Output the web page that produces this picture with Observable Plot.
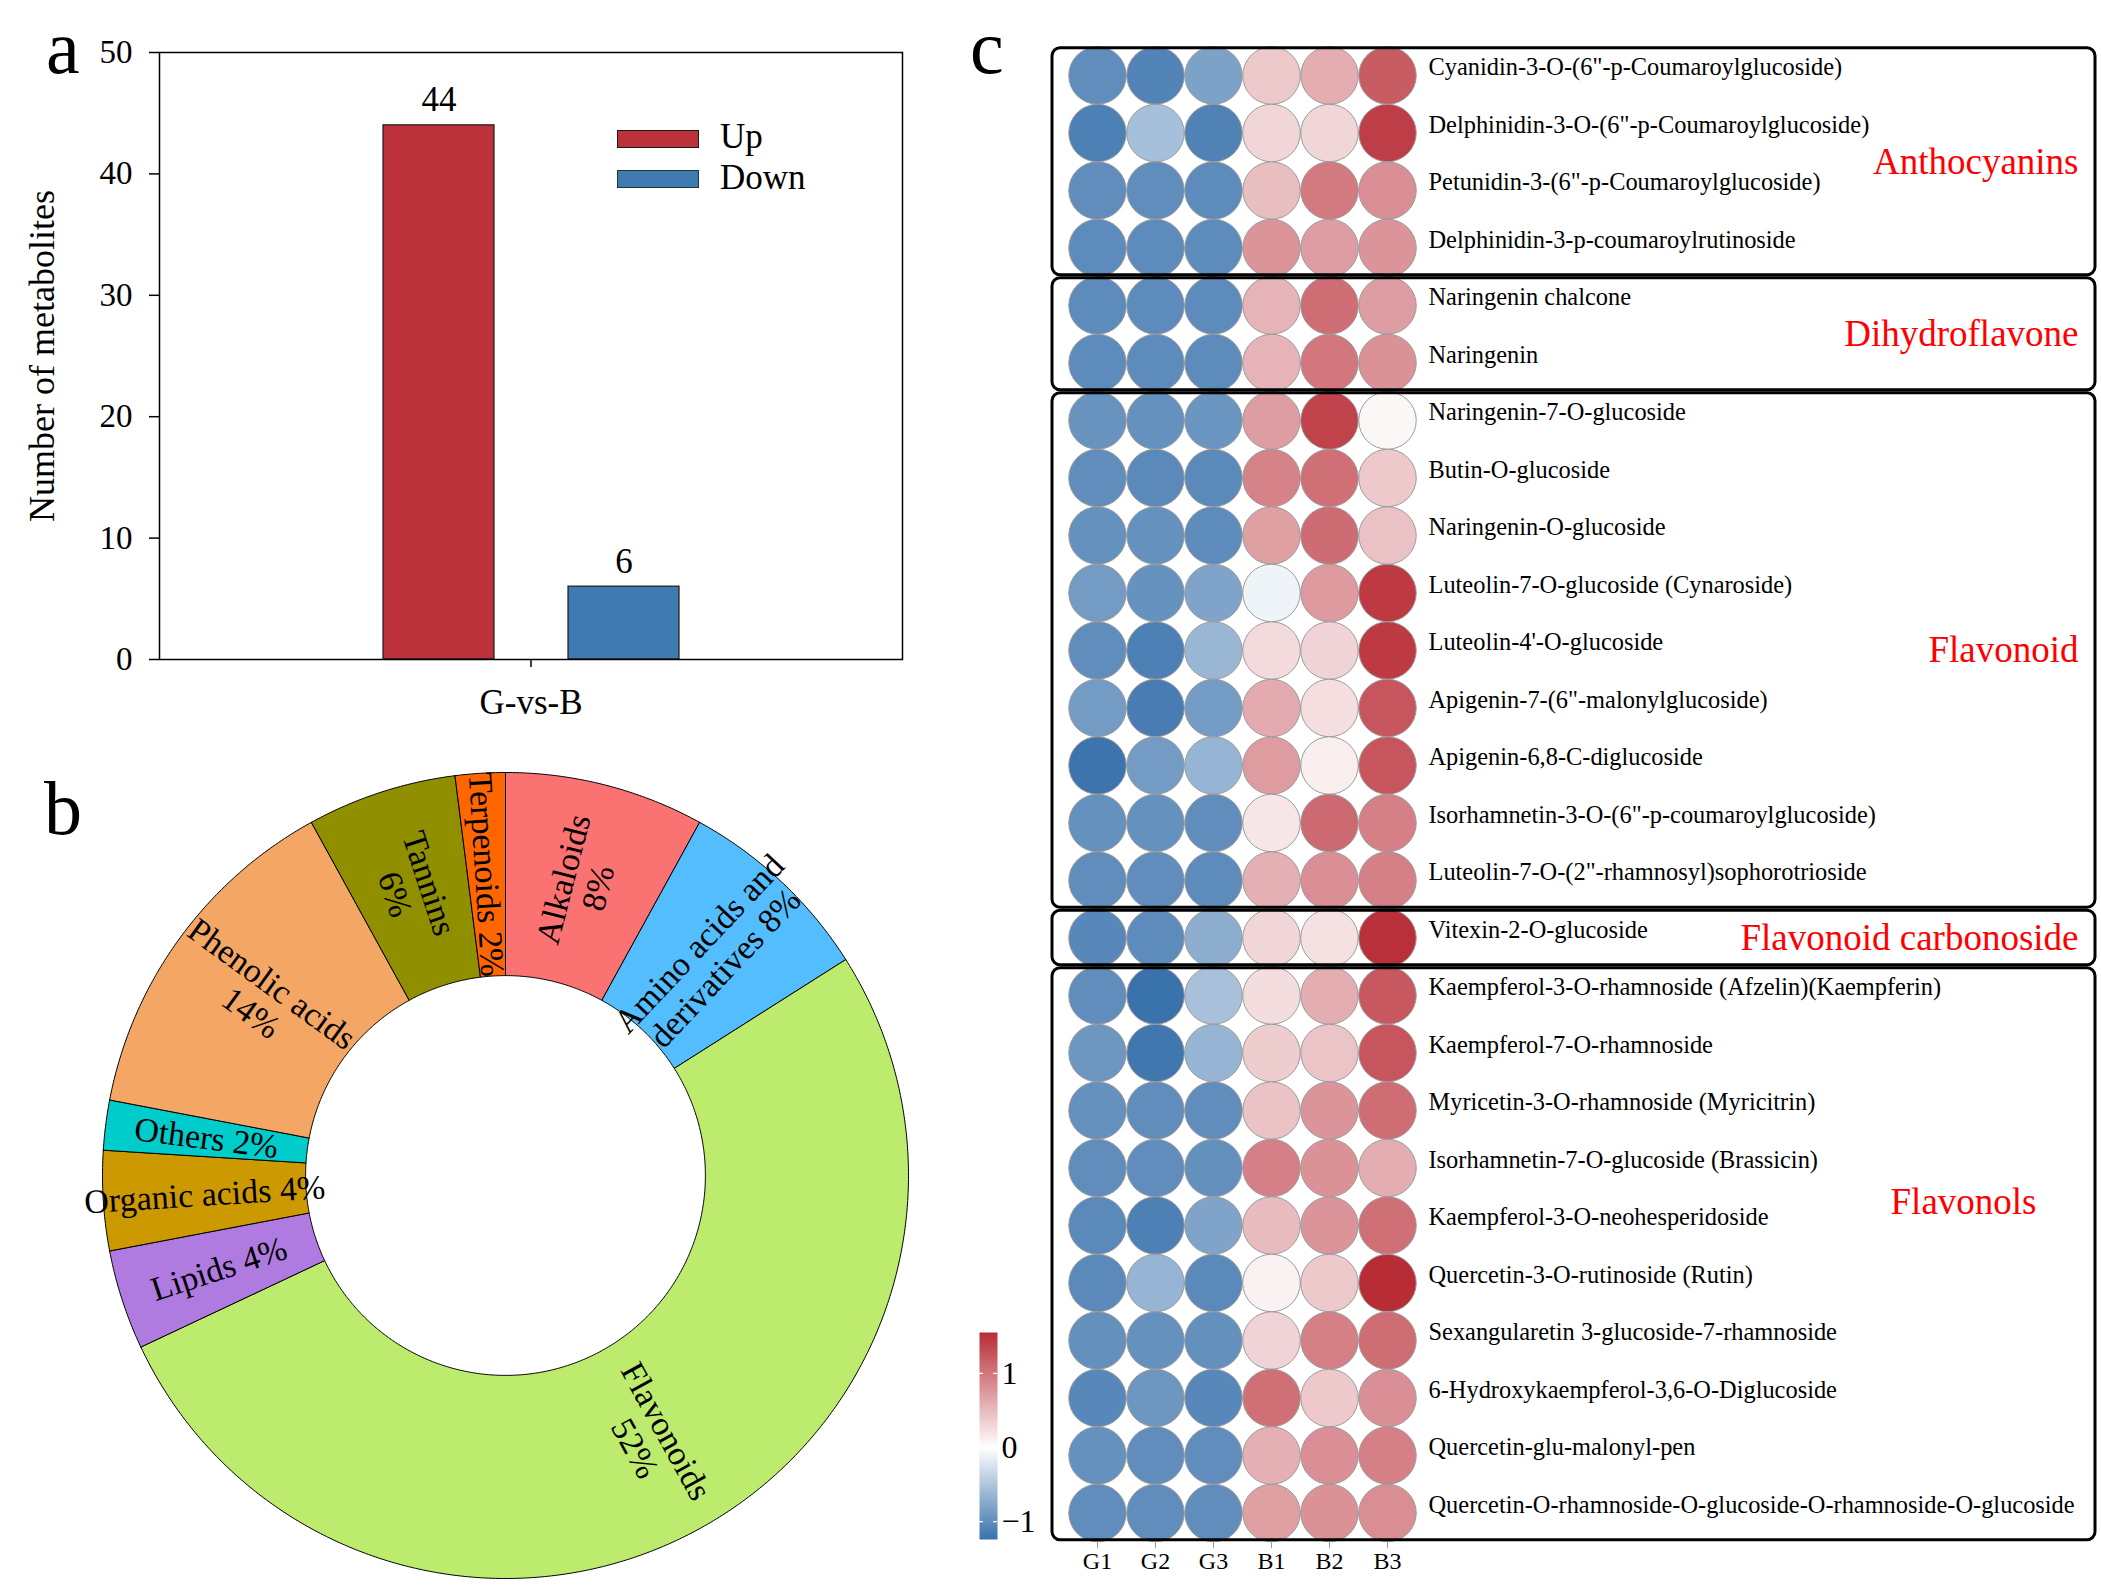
<!DOCTYPE html>
<html><head><meta charset="utf-8">
<script src="https://cdn.jsdelivr.net/npm/d3@7"></script>
<script src="https://cdn.jsdelivr.net/npm/@observablehq/plot@0.6"></script>
<style>
html,body{margin:0;padding:0;background:#fff;}
#page{position:relative;width:2101px;height:1594px;background:#fff;overflow:hidden;font-family:"Liberation Serif","Times New Roman",serif;color:#000;}
.letter{position:absolute;font-size:76px;line-height:1;}
.legtxt{position:absolute;font-size:35px;line-height:1;}
.legbox{position:absolute;box-sizing:border-box;width:82px;height:18px;border:1.5px solid #1a1a1a;}
</style></head><body><div id="page"></div>
<script>
// ---------- data ----------
const barGroup = "G-vs-B";
const barTypes = ["Up", "Down"];
const barValues = [44, 6];
const barColors = ["#BC323A", "#3F7BB0"];

const pieCategories = ["Alkaloids", "Amino acids and derivatives", "Flavonoids", "Lipids", "Organic acids", "Others", "Phenolic acids", "Tannins", "Terpenoids"];
const pieCounts = [4, 4, 26, 2, 2, 1, 7, 3, 1];
const pieColors = ["#FB7272", "#53BDFD", "#BCEB6E", "#B07BE0", "#CC9900", "#00CCCC", "#F4A764", "#8F8F00", "#FF6600"];
const pieLabelTemplates = ["Alkaloids\n{p}", "Amino acids and\nderivatives {p}", "Flavonoids\n{p}", "Lipids {p}", "Organic acids {p}", "Others {p}", "Phenolic acids\n{p}", "Tannins\n{p}", "Terpenoids {p}"];

const heatCols = ["G1", "G2", "G3", "B1", "B2", "B3"];
const heatRows = [
  "Cyanidin-3-O-(6\"-p-Coumaroylglucoside)",
  "Delphinidin-3-O-(6\"-p-Coumaroylglucoside)",
  "Petunidin-3-(6\"-p-Coumaroylglucoside)",
  "Delphinidin-3-p-coumaroylrutinoside",
  "Naringenin chalcone",
  "Naringenin",
  "Naringenin-7-O-glucoside",
  "Butin-O-glucoside",
  "Naringenin-O-glucoside",
  "Luteolin-7-O-glucoside (Cynaroside)",
  "Luteolin-4'-O-glucoside",
  "Apigenin-7-(6\"-malonylglucoside)",
  "Apigenin-6,8-C-diglucoside",
  "Isorhamnetin-3-O-(6\"-p-coumaroylglucoside)",
  "Luteolin-7-O-(2\"-rhamnosyl)sophorotrioside",
  "Vitexin-2-O-glucoside",
  "Kaempferol-3-O-rhamnoside (Afzelin)(Kaempferin)",
  "Kaempferol-7-O-rhamnoside",
  "Myricetin-3-O-rhamnoside (Myricitrin)",
  "Isorhamnetin-7-O-glucoside (Brassicin)",
  "Kaempferol-3-O-neohesperidoside",
  "Quercetin-3-O-rutinoside (Rutin)",
  "Sexangularetin 3-glucoside-7-rhamnoside",
  "6-Hydroxykaempferol-3,6-O-Diglucoside",
  "Quercetin-glu-malonyl-pen",
  "Quercetin-O-rhamnoside-O-glucoside-O-rhamnoside-O-glucoside"
];
const heatRowGroups = [
  "Anthocyanins", "Anthocyanins", "Anthocyanins", "Anthocyanins",
  "Dihydroflavone", "Dihydroflavone",
  "Flavonoid", "Flavonoid", "Flavonoid", "Flavonoid", "Flavonoid", "Flavonoid", "Flavonoid", "Flavonoid", "Flavonoid",
  "Flavonoid carbonoside",
  "Flavonols", "Flavonols", "Flavonols", "Flavonols", "Flavonols", "Flavonols", "Flavonols", "Flavonols", "Flavonols", "Flavonols"
];
const heatValues = [
  [-1.00, -1.08, -0.82, 0.40, 0.60, 1.20],
  [-1.12, -0.56, -1.10, 0.30, 0.30, 1.42],
  [-1.00, -1.00, -1.02, 0.48, 0.98, 0.82],
  [-1.02, -1.02, -1.02, 0.78, 0.72, 0.78],
  [-1.02, -1.02, -1.02, 0.55, 1.07, 0.72],
  [-1.02, -1.02, -1.02, 0.55, 1.00, 0.80],
  [-0.95, -0.97, -0.93, 0.72, 1.38, 0.06],
  [-1.00, -1.03, -1.03, 0.92, 1.05, 0.40],
  [-0.97, -0.97, -1.02, 0.70, 1.08, 0.45],
  [-0.88, -0.96, -0.80, -0.10, 0.74, 1.45],
  [-1.00, -1.12, -0.64, 0.27, 0.32, 1.45],
  [-0.88, -1.15, -0.87, 0.62, 0.24, 1.25],
  [-1.22, -0.88, -0.66, 0.73, 0.12, 1.25],
  [-0.97, -0.97, -1.00, 0.18, 1.10, 0.93],
  [-1.00, -1.00, -1.02, 0.58, 0.82, 0.93],
  [-1.05, -1.02, -0.72, 0.30, 0.22, 1.52],
  [-1.00, -1.24, -0.55, 0.25, 0.60, 1.23],
  [-0.92, -1.20, -0.66, 0.37, 0.43, 1.25],
  [-0.97, -1.00, -1.00, 0.44, 0.78, 1.07],
  [-1.00, -1.00, -0.98, 0.93, 0.80, 0.60],
  [-1.03, -1.12, -0.80, 0.50, 0.78, 1.05],
  [-1.03, -0.66, -1.03, 0.10, 0.40, 1.55],
  [-0.98, -0.97, -0.98, 0.32, 0.93, 1.07],
  [-1.05, -0.92, -1.05, 1.05, 0.40, 0.82],
  [-0.97, -1.00, -1.00, 0.58, 0.82, 0.93],
  [-1.00, -1.00, -1.00, 0.70, 0.80, 0.83]
];
const groupNames = ["Anthocyanins", "Dihydroflavone", "Flavonoid", "Flavonoid carbonoside", "Flavonols"];
const colorDomain = [-1.24, 0, 1.55];
const colorRange = ["#3A72AC", "#FFFFFF", "#B82C36"];
const colorTicks = [-1, 0, 1];
const barTicks = [0, 10, 20, 30, 40, 50];

// ---------- helpers ----------
const serif = '"Liberation Serif","Times New Roman",serif';
const page = document.getElementById("page");
function place(el, left, top) {
  el.style.position = "absolute";
  el.style.left = left + "px";
  el.style.top = top + "px";
  page.appendChild(el);
}
function addDiv(cls, text, left, top, extra) {
  const d = document.createElement("div");
  d.className = cls;
  if (text != null) d.textContent = text;
  d.style.left = left + "px";
  d.style.top = top + "px";
  if (extra) Object.assign(d.style, extra);
  page.appendChild(d);
  return d;
}
const baseStyle = {fontFamily: serif, background: "transparent", color: "#000", overflow: "visible"};
const minusFmt = d => (d < 0 ? "\u2212" + Math.abs(d) : String(d));

// ---------- panel a: bar chart ----------
const barData = barTypes.map((t, i) => ({group: barGroup, type: t, value: barValues[i]}));
const bar = Plot.plot({
  width: 950, height: 740,
  marginLeft: 159, marginRight: 48, marginTop: 52, marginBottom: 81,
  style: baseStyle,
  fx: {domain: [barGroup], padding: 0},
  x: {domain: barTypes, paddingInner: 0.4, paddingOuter: 1.2, axis: null},
  y: {domain: [0, 50]},
  color: {domain: barTypes, range: barColors},
  marks: [
    Plot.barY(barData, {fx: "group", x: "type", y: "value", fill: "type", stroke: "#1a1a1a", strokeWidth: 1.2}),
    Plot.text(barData, {fx: "group", x: "type", y: "value", text: d => String(d.value), lineAnchor: "bottom", dy: -14, fontSize: 35}),
    Plot.frame({stroke: "#000", strokeWidth: 1.5}),
    Plot.axisY({ticks: barTicks, tickSize: 10, tickPadding: 17, fontSize: 33, strokeWidth: 1.5, label: null}),
    Plot.axisY({ticks: [], fontSize: 36, label: "Number of metabolites", labelAnchor: "center", labelOffset: 131, labelArrow: "none"}),
    Plot.axisFx({anchor: "bottom", tickSize: 8, tickPadding: 22, fontSize: 35, strokeWidth: 1.5, label: null})
  ]
});
place(bar, 0, 0);

// legend for panel a
addDiv("legbox", null, 617, 130, {background: barColors[0]});
addDiv("legtxt", barTypes[0], 720, 119);
addDiv("legbox", null, 617, 170, {background: barColors[1], borderColor: "#143d2b"});
addDiv("legtxt", barTypes[1], 720, 160);

// ---------- panel b: donut ----------
const total = d3.sum(pieCounts);
const pieData = pieCategories.map((c, i) => ({name: c, count: pieCounts[i]}));
const arcs = d3.pie().sort(null).value(d => d.count)(pieData);
const R0 = 0.496, R1 = 1, RL = (R0 + R1) / 2;
const ringPts = [];
arcs.forEach(a => {
  const n = Math.max(8, Math.ceil((a.endAngle - a.startAngle) / (Math.PI / 360)));
  const pts = [];
  for (let k = 0; k <= n; k++) {
    const t = a.startAngle + (a.endAngle - a.startAngle) * k / n;
    pts.push([R1 * Math.sin(t), R1 * Math.cos(t)]);
  }
  for (let k = n; k >= 0; k--) {
    const t = a.startAngle + (a.endAngle - a.startAngle) * k / n;
    pts.push([R0 * Math.sin(t), R0 * Math.cos(t)]);
  }
  pts.push(pts[0]);
  pts.forEach(p => ringPts.push({name: a.data.name, x: p[0], y: p[1]}));
});
const pieLabels = arcs.map((a, i) => {
  const m = (a.startAngle + a.endAngle) / 2;
  const deg = m * 180 / Math.PI;
  const pct = Math.round(a.data.count / total * 100) + "%";
  return {
    x: RL * Math.sin(m), y: RL * Math.cos(m),
    rot: deg <= 180 ? deg - 90 : deg + 90 - 360,
    text: pieLabelTemplates[i].replace("{p}", pct)
  };
});
const pie = Plot.plot({
  width: 950, height: 854,
  marginLeft: 102, marginRight: 42, marginTop: 32, marginBottom: 16,
  style: baseStyle,
  x: {domain: [-1, 1], axis: null},
  y: {domain: [-1, 1], axis: null},
  color: {domain: pieCategories, range: pieColors},
  marks: [
    Plot.line(ringPts, {x: "x", y: "y", z: "name", fill: "name", stroke: "#000", strokeWidth: 1, curve: "linear"}),
    Plot.text(pieLabels, {x: "x", y: "y", text: "text", rotate: "rot", fontSize: 34, lineHeight: 1.05, fill: "#000"})
  ]
});
place(pie, 0, 740);

// ---------- panel c: dot heatmap ----------
const cells = [];
heatRows.forEach((r, i) => heatCols.forEach((c, j) => cells.push({row: i, col: c, value: heatValues[i][j]})));
const groups = groupNames.map(g => {
  const idx = heatRowGroups.map((x, i) => x === g ? i : -1).filter(i => i >= 0);
  return {name: g, first: d3.min(idx), last: d3.max(idx)};
});
const colorOpts = {type: "linear", domain: colorDomain, range: colorRange, interpolate: "rgb"};
const heat = Plot.plot({
  width: 1101, height: 1594,
  marginLeft: 68, marginRight: 685, marginTop: 46.25, marginBottom: 52.75,
  style: baseStyle,
  x: {type: "band", domain: heatCols, padding: 0},
  y: {domain: [-0.5, heatRows.length - 0.5], reverse: true},
  color: colorOpts,
  marks: [
    Plot.dot(cells, {x: "col", y: "row", r: 28.75, fill: "value", stroke: "#9b9b9b", strokeWidth: 1}),
    Plot.rect(groups, {y1: d => d.first - 0.5, y2: d => d.last + 0.5, insetTop: 1.5, insetBottom: 1.5,
      insetLeft: -16, insetRight: -679, rx: 8, fill: "none", stroke: "#000", strokeWidth: 3}),
    Plot.text(groups.filter(g => g.name !== "Flavonols"), {y: d => (d.first + d.last) / 2, text: "name",
      frameAnchor: "right", textAnchor: "end", dx: 662, fill: "#FF0000", fontSize: 37}),
    Plot.text(groups.filter(g => g.name === "Flavonols"), {y: d => (d.first + d.last) / 2, text: "name",
      frameAnchor: "right", textAnchor: "end", dx: 620, dy: -52, fill: "#FF0000", fontSize: 37}),
    Plot.axisY({anchor: "right", ticks: d3.range(heatRows.length), tickFormat: i => heatRows[i],
      tickSize: 0, tickPadding: 12, fontSize: 24.4, dy: -8, label: null}),
    Plot.axisX({anchor: "bottom", tickSize: 7, stroke: "#999", fontSize: 24, tickPadding: 3, label: null})
  ]
});
place(heat, 1000, 0);

// colour bar
const cbar = Plot.plot({
  width: 160, height: 294,
  marginLeft: 39, marginRight: 103, marginTop: 32, marginBottom: 55,
  style: baseStyle,
  x: {domain: [0, 1], axis: null},
  y: {domain: [colorDomain[0], colorDomain[2]]},
  color: colorOpts,
  marks: [
    Plot.raster({x1: 0, x2: 1, y1: colorDomain[0], y2: colorDomain[2], width: 1, height: 240, fill: (x, y) => y, imageRendering: "auto"}),
    Plot.tickY(colorTicks, {y: d => d, stroke: "#fff", strokeWidth: 1.2, strokeDasharray: "4,10"}),
    Plot.axisY({anchor: "right", ticks: colorTicks, tickFormat: minusFmt, tickSize: 0, tickPadding: 4, fontSize: 32, label: null})
  ]
});
place(cbar, 940, 1300);

// panel letters
addDiv("letter", "a", 46, 9);
addDiv("letter", "b", 44, 770);
addDiv("letter", "c", 970, 9);
</script></body></html>
